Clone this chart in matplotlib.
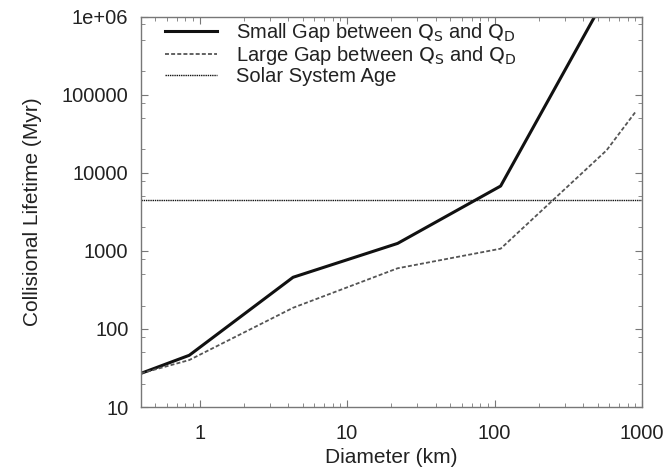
import numpy as np
import matplotlib
matplotlib.use('Agg')
import matplotlib.pyplot as plt
from matplotlib.ticker import LogLocator, FixedFormatter, FixedLocator, NullFormatter

plt.rcParams['font.family'] = ['Liberation Sans', 'DejaVu Sans']

# diameter (km) vs collisional lifetime (Myr)
small_d = [0.4, 0.85, 4.3, 22, 110, 575]
small_t = [27, 46, 460, 1250, 6800, 1.9e6]
large_d = [0.4, 0.85, 4.3, 22, 110, 575, 900]
large_t = [27, 40, 187, 600, 1070, 19500, 60000]
solar_age = 4500

ytick_vals = [10, 100, 1000, 10000, 100000, 1e6]
ytick_labels = ['10', '100', '1000', '10000', '100000', '1e+06']
xtick_vals = [1, 10, 100, 1000]
xtick_labels = ['1', '10', '100', '1000']

fig = plt.figure(figsize=(6.7, 4.7), dpi=100)
ax = fig.add_axes([0.2104, 0.134, 0.7478, 0.830])

ax.plot(small_d, small_t, color='#111111', lw=2.2, ls='-',
        label=r'Small Gap between $\mathrm{Q_S}$ and $\mathrm{Q_D}$')
ax.plot(large_d, large_t, color='#555555', lw=1.3, ls=(0, (2.2, 1.2)),
        label=r'Large Gap between $\mathrm{Q_S}$ and $\mathrm{Q_D}$')
ax.axhline(solar_age, color='#111111', lw=1.0, ls=(0, (1, 0.6)),
           label='Solar System Age')

ax.set_xscale('log')
ax.set_yscale('log')
ax.set_xlim(0.4, 1000)
ax.set_ylim(10, 1e6)

ax.yaxis.set_major_locator(FixedLocator(ytick_vals))
ax.yaxis.set_major_formatter(FixedFormatter(ytick_labels))
ax.yaxis.set_minor_locator(LogLocator(base=10, subs=(2, 5, 8)))
ax.yaxis.set_minor_formatter(NullFormatter())
ax.xaxis.set_major_locator(FixedLocator(xtick_vals))
ax.xaxis.set_major_formatter(FixedFormatter(xtick_labels))
ax.xaxis.set_minor_locator(LogLocator(base=10, subs=np.arange(2, 10)))
ax.xaxis.set_minor_formatter(NullFormatter())

ax.tick_params(which='both', direction='in', top=True, right=True,
               color='#777777', labelsize=14.5, labelcolor='#222222')
ax.tick_params(axis='y', pad=9)
ax.tick_params(axis='x', pad=12)
ax.tick_params(which='major', length=5, width=0.8)
ax.tick_params(which='minor', length=3, width=0.6)
for s in ax.spines.values():
    s.set_color('#777777')
    s.set_linewidth(1.0)

ax.set_xlabel('Diameter (km)', fontsize=15, labelpad=4, color='#222222')
ax.set_ylabel('Collisional Lifetime (Myr)', fontsize=15, labelpad=14,
              color='#222222')

ax.legend(loc='upper left', bbox_to_anchor=(0.048, 0.99), frameon=False,
          fontsize=14.5, handlelength=2.6, handletextpad=0.9,
          labelspacing=0.0, borderaxespad=0.0, borderpad=0.0,
          labelcolor='#222222')

fig.savefig('out.png', dpi=100)
